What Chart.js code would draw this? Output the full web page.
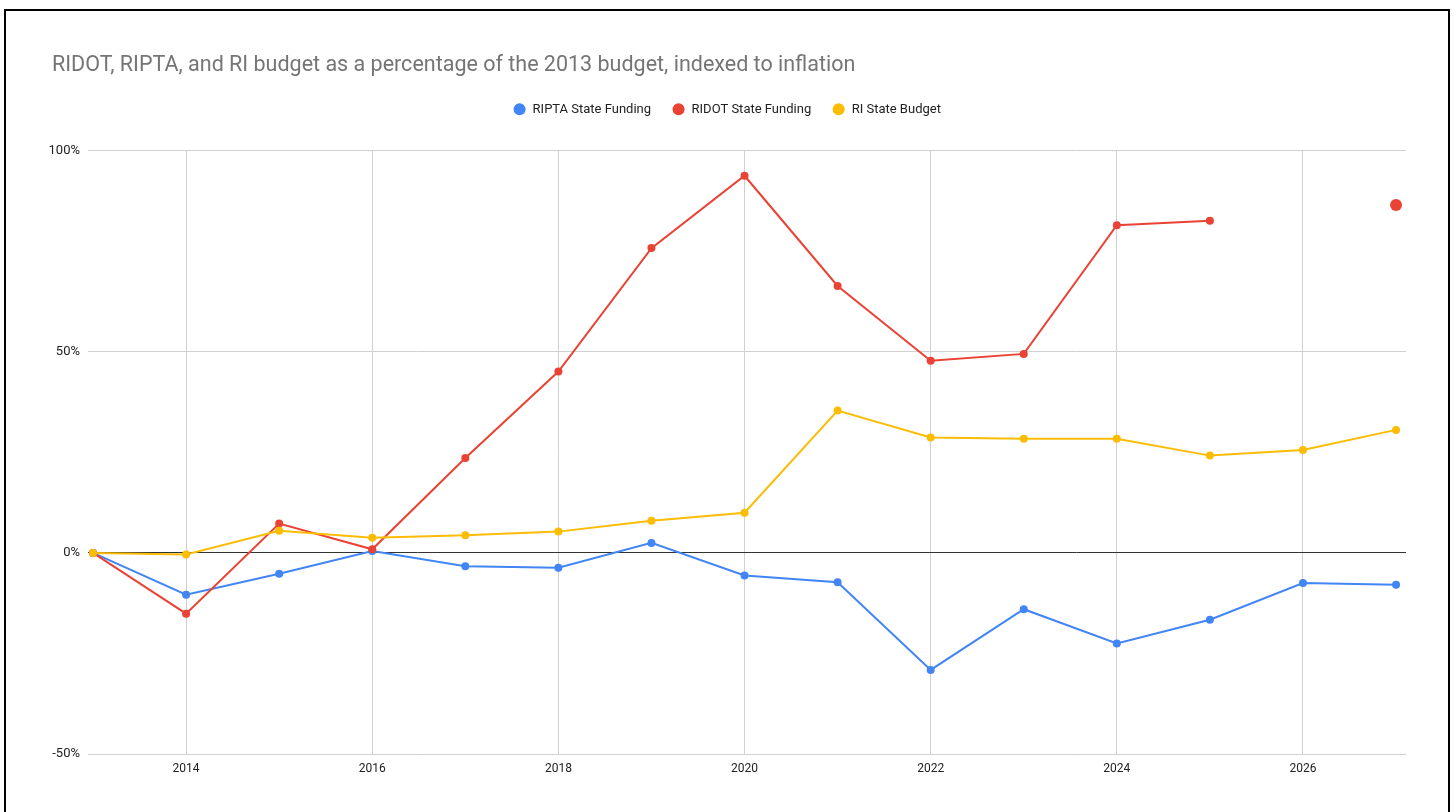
<!DOCTYPE html>
<html>
<head>
<meta charset="utf-8">
<script src="https://cdn.jsdelivr.net/npm/chart.js@4/dist/chart.umd.min.js"></script>
<style>
	html, body { margin: 0; padding: 0; background: #fff; overflow: hidden; }
	#wrap { position: absolute; left: 0; top: 0; width: 1455px; height: 812px; }
	#frame {
		position: absolute; left: 4px; top: 9px; width: 1442px; height: 900px;
		border: 2px solid #000; pointer-events: none;
	}
</style>
</head>
<body>
<div id="wrap"><canvas id="budget-chart" width="1455" height="812"></canvas></div>
<div id="frame"></div>
<script>
const years = [2013, 2014, 2015, 2016, 2017, 2018, 2019, 2020, 2021, 2022, 2023, 2024, 2025, 2026, 2027];
const riptaFunding = [0, -10.4, -5.2, 0.5, -3.3, -3.7, 2.5, -5.6, -7.3, -29.1, -14.0, -22.5, -16.6, -7.5, -7.9];
const ridotFunding = [0, -15.1, 7.3, 0.9, 23.6, 45.1, 75.8, 93.8, 66.4, 47.8, 49.5, 81.5, 82.6, null, 86.5];
const riBudget = [0, -0.4, 5.5, 3.8, 4.4, 5.3, 8.0, 10.0, 35.4, 28.7, 28.4, 28.4, 24.2, 25.6, 30.6];
const xTicks = [2014, 2016, 2018, 2020, 2022, 2024, 2026];
const yTicks = [-50, 0, 50, 100];

const toPoints = values => years.map((year, i) => ({x: year, y: values[i]}));

// google draws a lone point (no neighbours) bigger
const pointSize = ctx => {
	const d = ctx.dataset.data, i = ctx.dataIndex;
	const prev = d[i - 1], next = d[i + 1];
	const lonely = (!prev || prev.y === null) && (!next || next.y === null);
	return lonely ? 6 : 4;
};

const lineDataset = (label, values, color, order) => ({
	label,
	data: toPoints(values),
	borderColor: color,
	backgroundColor: color,
	pointBackgroundColor: color,
	pointBorderWidth: 0,
	pointRadius: pointSize,
	pointHoverRadius: pointSize,
	borderWidth: 2,
	spanGaps: false,
	order
});

const shiftDraw = (box, dx) => {
	const draw = box.draw;
	box.draw = function () {
		this.ctx.save();
		this.ctx.translate(dx, 0);
		draw.call(this);
		this.ctx.restore();
	};
};

// legend sits higher than chart.js puts it, and the title starts a bit
// right of the y labels, so nudge both
const boxTweaks = {
	id: 'boxTweaks',
	beforeUpdate(chart) {
		const lg = chart.legend;
		if (lg && !lg._patched) {
			const fit = lg.fit;
			lg.fit = function () {
				fit.call(this);
				this.height += 25;
			};
			shiftDraw(lg, 4);
			lg._patched = true;
		}
		const tb = chart.titleBlock;
		if (tb && !tb._patched) {
			shiftDraw(tb, 12);
			tb._patched = true;
		}
	}
};

Chart.defaults.font.family = 'Roboto, Arial, sans-serif';
Chart.defaults.color = '#222';

new Chart(document.getElementById('budget-chart'), {
	type: 'line',
	data: {
		datasets: [
			lineDataset('RIPTA State Funding', riptaFunding, '#4285F4', 3),
			lineDataset('RIDOT State Funding', ridotFunding, '#EA4335', 2),
			lineDataset('RI State Budget', riBudget, '#FBBC04', 1)
		]
	},
	options: {
		responsive: false,
		animation: false,
		layout: {
			padding: {left: 40, right: 49, top: 0, bottom: 28}
		},
		plugins: {
			title: {
				display: true,
				text: 'RIDOT, RIPTA, and RI budget as a percentage of the 2013 budget, indexed to inflation',
				align: 'start',
				color: '#757575',
				font: {size: 21.5, weight: 'normal'},
				padding: {top: 53, bottom: 3}
			},
			legend: {
				position: 'top',
				labels: {
					usePointStyle: true,
					pointStyle: 'circle',
					boxWidth: 13,
					boxHeight: 8.5,
					padding: 21,
					font: {size: 13},
					color: '#222',
					sort: (a, b) => a.datasetIndex - b.datasetIndex
				}
			},
			tooltip: {enabled: false}
		},
		scales: {
			x: {
				type: 'linear',
				min: 2012.946,
				max: 2027.107,
				afterBuildTicks: scale => {
					scale.ticks = xTicks.map(value => ({value}));
				},
				afterFit: scale => {
					scale.height = 30;
				},
				ticks: {
					callback: value => String(value),
					font: {size: 12},
					color: '#222',
					padding: 8,
					maxRotation: 0,
					autoSkip: false
				},
				grid: {
					color: '#d0d0d0',
					lineWidth: 1,
					drawTicks: false
				},
				border: {display: false}
			},
			y: {
				min: -50,
				max: 100,
				afterBuildTicks: scale => {
					scale.ticks = yTicks.map(value => ({value}));
				},
				afterFit: scale => {
					scale.width = 48;
				},
				ticks: {
					callback: value => value + '%',
					font: {size: 13},
					color: '#222',
					padding: 8
				},
				grid: {
					color: ctx => ctx.tick && ctx.tick.value === 0 ? '#333' : '#d0d0d0',
					lineWidth: 1,
					drawTicks: false
				},
				border: {display: false}
			}
		}
	},
	plugins: [boxTweaks]
});
</script>
</body>
</html>
